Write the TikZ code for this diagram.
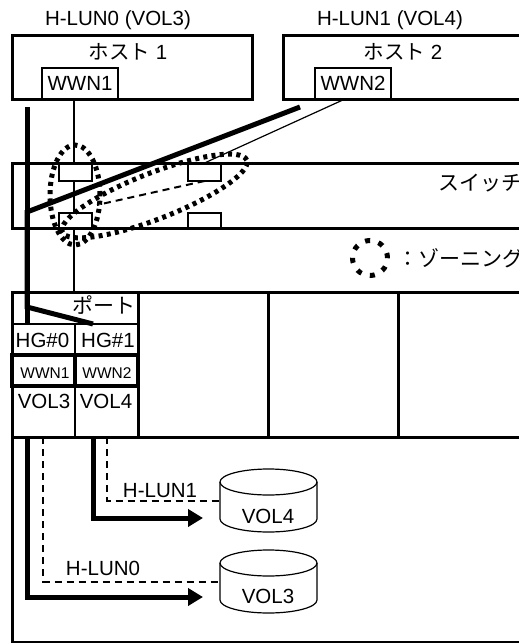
\documentclass[tikz,border=0pt]{standalone}
\usepackage{fontspec}
\setmainfont{Liberation Sans}
\newfontfamily\jp{Noto Sans CJK JP}
\usetikzlibrary{arrows.meta,positioning}

\begin{document}
\begin{tikzpicture}[
  x=1pt,y=-1pt,
  font=\fontsize{20.5}{24}\selectfont,
  hostnode/.style={draw,line width=3pt,anchor=north west,outer sep=0pt,inner sep=0pt,minimum height=64pt},
  wwnnode/.style={draw,line width=1.2pt,fill=white,anchor=south west,outer sep=0pt,inner sep=0pt,minimum width=76pt,minimum height=31pt},
  swport/.style={draw,line width=1.2pt,fill=white,anchor=north west,outer sep=0pt,inner sep=0pt,minimum width=33pt},
  txt/.style={inner sep=0pt},
  jptxt/.style={inner sep=0pt,font=\jp\fontsize{21}{24}\selectfont},
  thinline/.style={line width=1.2pt},
  frame/.style={line width=3pt},
  route/.style={line width=5pt},
  lunline/.style={line width=2pt,dash pattern=on 7pt off 5pt},
  zone/.style={line width=5pt,dash pattern=on 4pt off 4.3pt},
  disk/.style={minimum width=97pt,minimum height=63pt,inner sep=0pt,outer sep=0pt},
  diskline/.style={line width=1.2pt}
]
\useasboundingbox (0,0) rectangle (519,643);
\clip (0,0) rectangle (519,643);

\node[txt,anchor=base] (lun0top) at (118,25) {H-LUN0 (VOL3)};
\node[txt,anchor=base] (lun1top) at (390,25) {H-LUN1 (VOL4)};

\node[hostnode,minimum width=240pt] (host1) at (12,35) {};
\node[hostnode,minimum width=300pt] (host2) at (283,35) {};
\node[txt] (host1lbl) at (128,52) {{\jp ホスト} 1};
\node[txt] (host2lbl) at (403,52) {{\jp ホスト} 2};
\node[wwnnode] (wwn1) at (42,99) {WWN1};
\node[wwnnode] (wwn2) at (315,99) {WWN2};

\coordinate (porttop) at (74,292);
\draw[thinline] (wwn1.south -| porttop) -- (porttop);

\node[swport,minimum height=18pt] (sp1) at (59,163) {};
\node[swport,minimum height=18pt] (sp2) at (188,163) {};
\node[swport,minimum height=15pt] (sp3) at (59,213) {};
\node[swport,minimum height=15pt] (sp4) at (188,213) {};
\node[hostnode,minimum width=560pt,minimum height=65pt] (sw) at (12,163) {};
\node[jptxt,anchor=west] (swlbl) at (438,183) {スイッチ};

\draw[thinline] ([xshift=-8pt]wwn2.south) -- (sp2.north);

\coordinate (h1out) at (27,107);
\coordinate (h2out) at (300,107);
\coordinate (swjoin) at (27,212);
\coordinate (hgsplit) at (27,307);
\coordinate (hg0in) at (27,324);
\coordinate (hg1in) at (93,324);
\draw[route] (h1out) -- (hg0in);
\draw[route] (h2out) -- (swjoin) -- (hgsplit) -- (hg1in);

\coordinate (zonelink) at (97,205);
\draw[lunline] (sp2.south) -- (zonelink);

\draw[zone] (75,195) ellipse [x radius=25pt,y radius=50pt];
\draw[zone,rotate around={21.3:(154.5,196)}] (154.5,196) ellipse [x radius=99pt,y radius=23pt];

\draw[zone,dash pattern=on 5pt off 8.7pt] (370,258) circle [radius=17.5pt];
\node[jptxt,anchor=west] (zonelbl) at (397,258) {：ゾーニング};

% port / storage
\draw[frame] (12,292) rectangle (560,642);
\draw[frame] (12,437) -- (560,437);
\foreach \x in {138,268,398}
  \draw[frame] (\x,292) -- (\x,437);
\draw[thinline] (12,324) -- (138,324) (75,324) -- (75,437);
\draw[line width=4pt] (12,355) rectangle (138,386) (75,355) -- (75,386);

\node[jptxt] (porthdr) at (104,305) {ポート};
\node[txt,anchor=base] (hg0) at (42.5,347) {HG\#0};
\node[txt,anchor=base] (hg1) at (108,347) {HG\#1};
\node[txt,anchor=base,font=\fontsize{15.5}{18}\selectfont] (pw1) at (45,378) {WWN1};
\node[txt,anchor=base,font=\fontsize{15.5}{18}\selectfont] (pw2) at (107,378) {WWN2};
\node[txt,anchor=base] (pv3) at (44,408) {VOL3};
\node[txt,anchor=base] (pv4) at (106,408) {VOL4};

\coordinate (out0) at (27,437);
\coordinate (out1) at (93,437);
\coordinate (lun0s) at (43,437);
\coordinate (lun1s) at (107,437);
\node[disk] (vol4) at (268.5,500.5) {};
\node[disk] (vol3) at (268.5,581.5) {};
\foreach \d in {vol4,vol3} {
  \draw[diskline] ([yshift=-13pt]\d.north) ellipse [x radius=48.5pt,y radius=13pt];
  \draw[diskline] ([yshift=-13pt]\d.north west) -- ([yshift=13pt]\d.south west)
    arc[start angle=180,end angle=360,x radius=48.5pt,y radius=13pt]
    -- ([yshift=-13pt]\d.north east);
}
\node[txt,anchor=base] (vol4lbl) at (268,523) {VOL4};
\node[txt,anchor=base] (vol3lbl) at (268,603) {VOL3};
\coordinate (vol4in) at (203,518);
\coordinate (vol3in) at (203,597);

\draw[lunline] (lun1s) |- (vol4.west);
\draw[lunline] (lun0s) |- (vol3.west);
\node[txt,anchor=base] (lun1lbl) at (160,497) {H-LUN1};
\node[txt,anchor=base] (lun0lbl) at (103,575) {H-LUN0};

\draw[route,-{Triangle[length=15pt,width=17pt]}] (out1) |- (vol4in);
\draw[route,-{Triangle[length=15pt,width=17pt]}] (out0) |- (vol3in);

\end{tikzpicture}
\end{document}
